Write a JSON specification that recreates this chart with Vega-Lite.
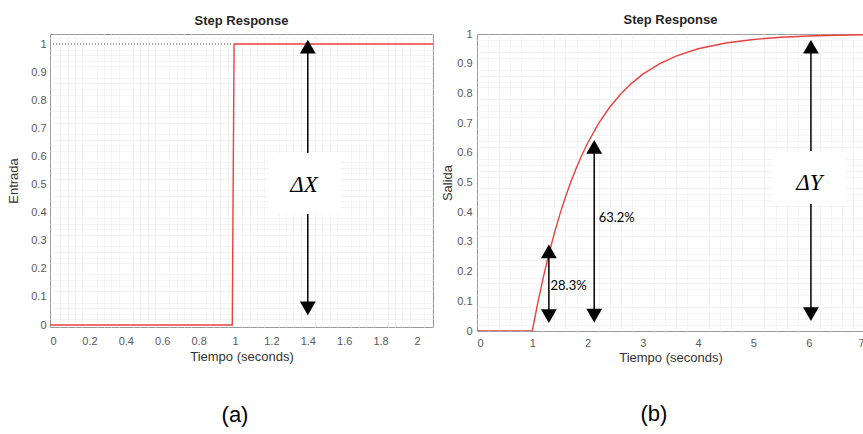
{
  "$schema": "https://vega.github.io/schema/vega-lite/v6.json",
  "background": "white",
  "padding": {"left": 7, "top": 13, "right": 0, "bottom": 0},
  "spacing": 7,
  "config": {
    "view": {"stroke": "#9a9a9a", "strokeWidth": 1},
    "title": {"font": "Liberation Sans", "fontSize": 13, "fontWeight": "bold", "color": "#262626", "offset": 6},
    "axis": {
      "labelFont": "Liberation Sans", "labelFontSize": 11, "labelColor": "#5a5a5a",
      "titleFont": "Liberation Sans", "titleFontSize": 13, "titleFontWeight": "normal", "titleColor": "#333333",
      "gridColor": "#d6d6d6", "gridWidth": 1, "domain": false, "ticks": false
    }
  },
  "datasets": {
    "entrada": [
      {"t": -0.02, "v": 0}, {"t": 0.985, "v": 0}, {"t": 0.995, "v": 1}, {"t": 2.1, "v": 1}
    ],
    "salida": [
      {"t": 0, "v": 0}, {"t": 1.0, "v": 0}, {"t": 1.1, "v": 0.0952}, {"t": 1.2, "v": 0.1813},
      {"t": 1.3, "v": 0.2592}, {"t": 1.4, "v": 0.3297}, {"t": 1.5, "v": 0.3935}, {"t": 1.6, "v": 0.4512},
      {"t": 1.7, "v": 0.5034}, {"t": 1.8, "v": 0.5507}, {"t": 1.9, "v": 0.5934}, {"t": 2.0, "v": 0.6321},
      {"t": 2.2, "v": 0.6988}, {"t": 2.4, "v": 0.7534}, {"t": 2.6, "v": 0.7981}, {"t": 2.8, "v": 0.8347},
      {"t": 3.0, "v": 0.8647}, {"t": 3.3, "v": 0.8997}, {"t": 3.6, "v": 0.9257}, {"t": 4.0, "v": 0.9502},
      {"t": 4.5, "v": 0.9698}, {"t": 5.0, "v": 0.9817}, {"t": 5.5, "v": 0.9889}, {"t": 6.0, "v": 0.9933},
      {"t": 6.5, "v": 0.9959}, {"t": 7.0, "v": 0.9975}
    ],
    "refA": [{"x1": 0, "x2": 0.99, "y": 1}],
    "boxA": [{"x1": 1.187, "x2": 1.582, "y1": 0.395, "y2": 0.612}],
    "rulesA": [{"x": 1.4, "y1": 0.975, "y2": 0.612}, {"x": 1.4, "y1": 0.395, "y2": 0.07}],
    "headsA": [{"x": 1.4, "y": 0.991, "dir": "up"}, {"x": 1.4, "y": 0.059, "dir": "down"}],
    "textA": [{"x": 1.38, "y": 0.5, "txt": "ΔX"}],
    "capA": [{"x": 1.0, "y": -0.32, "txt": "(a)"}],
    "boxB": [{"x1": 5.35, "x2": 6.68, "y1": 0.428, "y2": 0.606}],
    "rulesB": [
      {"x": 1.3, "y1": 0.06, "y2": 0.26},
      {"x": 2.12, "y1": 0.06, "y2": 0.61},
      {"x": 6.04, "y1": 0.95, "y2": 0.606},
      {"x": 6.04, "y1": 0.428, "y2": 0.07}
    ],
    "headsB": [
      {"x": 1.3, "y": 0.268, "dir": "up"}, {"x": 1.3, "y": 0.05, "dir": "down"},
      {"x": 2.12, "y": 0.62, "dir": "up"}, {"x": 2.12, "y": 0.052, "dir": "down"},
      {"x": 6.04, "y": 0.957, "dir": "up"}, {"x": 6.04, "y": 0.057, "dir": "down"}
    ],
    "pctB": [{"x": 1.33, "y": 0.152, "txt": "28.3%"}, {"x": 2.2, "y": 0.38, "txt": "63.2%"}],
    "textB": [{"x": 6.01, "y": 0.5, "txt": "ΔY"}],
    "capB": [{"x": 3.2, "y": -0.28, "txt": "(b)"}]
  },
  "hconcat": [
    {
      "title": "Step Response",
      "width": 383,
      "height": 293,
      "resolve": {"axis": {"x": "independent", "y": "independent"}},
      "layer": [
        {
          "data": {"name": "entrada"},
          "mark": {"type": "line", "color": "#e8413f", "strokeWidth": 1.4, "clip": true},
          "encoding": {
            "x": {"field": "t", "type": "quantitative", "scale": {"domain": [-0.0165, 2.088], "nice": false, "zero": false},
              "axis": {"orient": "top", "title": null, "labels": false, "grid": true, "gridColor": "#e8e8e8", "gridDash": [1, 1],
                "values": [0.04,0.08,0.12,0.16,0.24,0.28,0.32,0.36,0.44,0.48,0.52,0.56,0.64,0.68,0.72,0.76,0.84,0.88,0.92,0.96,1.04,1.08,1.12,1.16,1.24,1.28,1.32,1.36,1.44,1.48,1.52,1.56,1.64,1.68,1.72,1.76,1.84,1.88,1.92,1.96,2.04,2.08]}},
            "y": {"field": "v", "type": "quantitative", "scale": {"domain": [-0.0071, 1.0356], "nice": false, "zero": false},
              "axis": {"orient": "right", "title": null, "labels": false, "grid": true, "gridColor": "#e8e8e8", "gridDash": [1, 1],
                "values": [0.02,0.04,0.06,0.08,0.12,0.14,0.16,0.18,0.22,0.24,0.26,0.28,0.32,0.34,0.36,0.38,0.42,0.44,0.46,0.48,0.52,0.54,0.56,0.58,0.62,0.64,0.66,0.68,0.72,0.74,0.76,0.78,0.82,0.84,0.86,0.88,0.92,0.94,0.96,0.98,1.02]}}
          }
        },
        {
          "data": {"name": "refA"},
          "mark": {"type": "rule", "color": "#444444", "strokeDash": [1, 2], "strokeWidth": 1},
          "encoding": {
            "x": {"field": "x1", "type": "quantitative",
              "axis": {"orient": "bottom", "title": "Tiempo (seconds)", "format": "~g", "labelPadding": 8, "titlePadding": 4,
                "values": [0,0.2,0.4,0.6,0.8,1,1.2,1.4,1.6,1.8,2]}},
            "x2": {"field": "x2"},
            "y": {"field": "y", "type": "quantitative",
              "axis": {"orient": "left", "title": "Entrada", "format": "~g", "labelPadding": 4, "titlePadding": 10,
                "values": [0,0.1,0.2,0.3,0.4,0.5,0.6,0.7,0.8,0.9,1]}}
          }
        },
        {
          "data": {"name": "boxA"},
          "mark": {"type": "rect", "color": "white"},
          "encoding": {
            "x": {"field": "x1", "type": "quantitative", "axis": null}, "x2": {"field": "x2"},
            "y": {"field": "y1", "type": "quantitative", "axis": null}, "y2": {"field": "y2"}
          }
        },
        {
          "data": {"name": "rulesA"},
          "mark": {"type": "rule", "color": "black", "strokeWidth": 1.5},
          "encoding": {
            "x": {"field": "x", "type": "quantitative", "axis": null},
            "y": {"field": "y1", "type": "quantitative", "axis": null}, "y2": {"field": "y2"}
          }
        },
        {
          "data": {"name": "headsA"},
          "mark": {"type": "point", "filled": true, "color": "black", "size": 250, "opacity": 1},
          "encoding": {
            "x": {"field": "x", "type": "quantitative", "axis": null},
            "y": {"field": "y", "type": "quantitative", "axis": null},
            "shape": {"field": "dir", "type": "nominal", "scale": {"domain": ["up", "down"], "range": ["triangle-up", "triangle-down"]}, "legend": null}
          }
        },
        {
          "data": {"name": "textA"},
          "mark": {"type": "text", "font": "Liberation Serif", "fontStyle": "italic", "fontSize": 23, "color": "black", "align": "center", "baseline": "middle"},
          "encoding": {
            "x": {"field": "x", "type": "quantitative", "axis": null},
            "y": {"field": "y", "type": "quantitative", "axis": null},
            "text": {"field": "txt"}
          }
        },
        {
          "data": {"name": "capA"},
          "mark": {"type": "text", "font": "Liberation Sans", "fontSize": 22, "color": "black", "align": "center", "baseline": "middle"},
          "encoding": {
            "x": {"field": "x", "type": "quantitative", "axis": null},
            "y": {"field": "y", "type": "quantitative", "axis": null},
            "text": {"field": "txt"}
          }
        }
      ]
    },
    {
      "title": {"text": "Step Response", "offset": 1},
      "width": 387,
      "height": 297,
      "resolve": {"axis": {"x": "independent", "y": "independent"}},
      "layer": [
        {
          "data": {"name": "salida"},
          "mark": {"type": "line", "color": "#e8413f", "strokeWidth": 1.4, "clip": true},
          "encoding": {
            "x": {"field": "t", "type": "quantitative", "scale": {"domain": [0, 7], "nice": false, "zero": false},
              "axis": {"orient": "top", "title": null, "labels": false, "grid": true, "gridColor": "#e8e8e8", "gridDash": [1, 1],
                "values": [0.2,0.4,0.6,0.8,1.2,1.4,1.6,1.8,2.2,2.4,2.6,2.8,3.2,3.4,3.6,3.8,4.2,4.4,4.6,4.8,5.2,5.4,5.6,5.8,6.2,6.4,6.6,6.8]}},
            "y": {"field": "v", "type": "quantitative", "scale": {"domain": [0, 1], "nice": false, "zero": false},
              "axis": {"orient": "right", "title": null, "labels": false, "grid": true, "gridColor": "#e8e8e8", "gridDash": [1, 1],
                "values": [0.02,0.04,0.06,0.08,0.12,0.14,0.16,0.18,0.22,0.24,0.26,0.28,0.32,0.34,0.36,0.38,0.42,0.44,0.46,0.48,0.52,0.54,0.56,0.58,0.62,0.64,0.66,0.68,0.72,0.74,0.76,0.78,0.82,0.84,0.86,0.88,0.92,0.94,0.96,0.98]}}
          }
        },
        {
          "data": {"name": "boxB"},
          "mark": {"type": "rect", "color": "white"},
          "encoding": {
            "x": {"field": "x1", "type": "quantitative",
              "axis": {"orient": "bottom", "title": "Tiempo (seconds)", "format": "~g", "labelPadding": 6, "titlePadding": 3,
                "values": [0,1,2,3,4,5,6,7]}},
            "x2": {"field": "x2"},
            "y": {"field": "y1", "type": "quantitative",
              "axis": {"orient": "left", "title": "Salida", "format": "~g", "labelPadding": 5, "titlePadding": 2,
                "values": [0,0.1,0.2,0.3,0.4,0.5,0.6,0.7,0.8,0.9,1]}},
            "y2": {"field": "y2"}
          }
        },
        {
          "data": {"name": "rulesB"},
          "mark": {"type": "rule", "color": "black", "strokeWidth": 1.5},
          "encoding": {
            "x": {"field": "x", "type": "quantitative", "axis": null},
            "y": {"field": "y1", "type": "quantitative", "axis": null}, "y2": {"field": "y2"}
          }
        },
        {
          "data": {"name": "headsB"},
          "mark": {"type": "point", "filled": true, "color": "black", "size": 250, "opacity": 1},
          "encoding": {
            "x": {"field": "x", "type": "quantitative", "axis": null},
            "y": {"field": "y", "type": "quantitative", "axis": null},
            "shape": {"field": "dir", "type": "nominal", "scale": {"domain": ["up", "down"], "range": ["triangle-up", "triangle-down"]}, "legend": null}
          }
        },
        {
          "data": {"name": "pctB"},
          "mark": {"type": "text", "font": "Lato", "fontSize": 13, "color": "black", "align": "left", "baseline": "middle"},
          "encoding": {
            "x": {"field": "x", "type": "quantitative", "axis": null},
            "y": {"field": "y", "type": "quantitative", "axis": null},
            "text": {"field": "txt"}
          }
        },
        {
          "data": {"name": "textB"},
          "mark": {"type": "text", "font": "Liberation Serif", "fontStyle": "italic", "fontSize": 23, "color": "black", "align": "center", "baseline": "middle"},
          "encoding": {
            "x": {"field": "x", "type": "quantitative", "axis": null},
            "y": {"field": "y", "type": "quantitative", "axis": null},
            "text": {"field": "txt"}
          }
        },
        {
          "data": {"name": "capB"},
          "mark": {"type": "text", "font": "Liberation Sans", "fontSize": 22, "color": "black", "align": "center", "baseline": "middle"},
          "encoding": {
            "x": {"field": "x", "type": "quantitative", "axis": null},
            "y": {"field": "y", "type": "quantitative", "axis": null},
            "text": {"field": "txt"}
          }
        }
      ]
    }
  ]
}
